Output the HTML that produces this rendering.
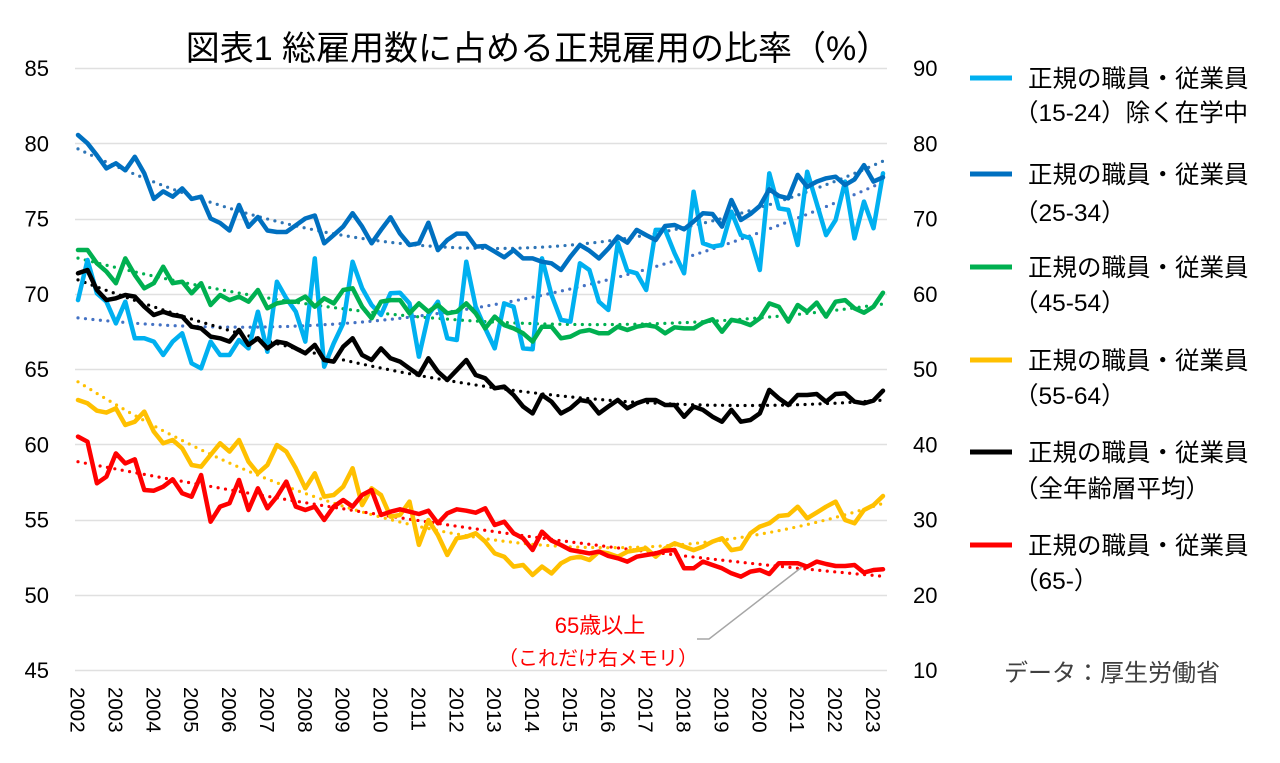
<!DOCTYPE html>
<html><head><meta charset="utf-8">
<style>
html,body{margin:0;padding:0;background:#fff;}
svg{display:block;font-family:"Liberation Sans","Noto Sans CJK JP",sans-serif;}
</style></head>
<body>
<svg id="chart" width="1280" height="763" viewBox="0 0 1280 763" xmlns="http://www.w3.org/2000/svg">
<text x="538" y="60" text-anchor="middle" font-size="34" fill="#000">図表1 総雇用数に占める正規雇用の比率（%）</text>
<g id="grid"></g>
<g id="yleft"></g>
<g id="yright"></g>
<g id="xaxis"></g>
<g id="trends"></g>
<g id="series"></g>
<g font-size="24.5" fill="#000">
  <g><line x1="970" y1="78" x2="1012" y2="78" stroke="#00B0F0" stroke-width="5"/><text x="1028" y="87">正規の職員・従業員</text><text x="1014" y="121">（15-24）除く在学中</text></g>
  <g><line x1="970" y1="174" x2="1012" y2="174" stroke="#0070C0" stroke-width="5"/><text x="1028" y="183">正規の職員・従業員</text><text x="1014" y="221">（25-34）</text></g>
  <g><line x1="970" y1="267" x2="1012" y2="267" stroke="#00B050" stroke-width="5"/><text x="1028" y="276">正規の職員・従業員</text><text x="1014" y="311">（45-54）</text></g>
  <g><line x1="970" y1="360" x2="1012" y2="360" stroke="#FFC000" stroke-width="5"/><text x="1028" y="369">正規の職員・従業員</text><text x="1014" y="404">（55-64）</text></g>
  <g><line x1="970" y1="452" x2="1012" y2="452" stroke="#000" stroke-width="5"/><text x="1028" y="461">正規の職員・従業員</text><text x="1014" y="497">（全年齢層平均）</text></g>
  <g><line x1="970" y1="545" x2="1012" y2="545" stroke="#FF0000" stroke-width="5"/><text x="1028" y="554">正規の職員・従業員</text><text x="1014" y="589">（65-）</text></g>
</g>
<g>
  <text x="600" y="633" text-anchor="middle" font-size="22" fill="#FF0000">65歳以上</text>
  <text x="598" y="665" text-anchor="middle" font-size="20" fill="#FF0000">（これだけ右メモリ）</text>
  <polyline points="697,639 709,639 802,567" fill="none" stroke="#A6A6A6" stroke-width="1.5"/>
</g>
<text x="1112" y="681" text-anchor="middle" font-size="24" fill="#404040">データ：厚生労働省</text>
</svg>
<script>
const years = [2002,2003,2004,2005,2006,2007,2008,2009,2010,2011,2012,2013,2014,2015,2016,2017,2018,2019,2020,2021,2022,2023];
const leftTicks = [45,50,55,60,65,70,75,80,85];
const rightTicks = [10,20,30,40,50,60,70,80,90];
const s1524 = [69.58,72.24,70.03,69.47,68.03,69.47,67.04,67.04,66.82,65.93,66.82,67.37,65.38,65.04,66.82,65.93,65.93,66.93,66.37,68.81,66.15,70.8,69.7,68.81,66.82,72.35,65.15,66.7,
68.03,72.13,70.36,69.25,68.59,70.03,70.07,69.36,65.82,68.59,69.47,67.04,66.93,72.13,69.14,67.7,66.37,69.36,69.14,66.37,66.31,72.35,69.92,68.26,68.15,72.02,71.58,69.47,68.92,73.4,71.53,
71.36,70.25,74.24,74.24,72.69,71.36,76.78,73.35,73.13,73.24,75.45,73.9,73.68,71.58,78.0,75.67,75.57,73.24,78.11,76.01,73.9,74.9,77.45,73.68,76.12,74.35,78.0];
const s2534 = [80.55,80.0,79.2,78.33,78.67,78.2,79.1,78.0,76.3,76.8,76.45,77.0,76.3,76.45,75.0,74.7,74.2,75.9,74.45,75.1,74.2,74.1,74.1,74.55,75.0,75.2,73.35,73.9,
74.46,75.35,74.46,73.35,74.24,75.08,74.0,73.24,73.35,74.72,72.9,73.57,74.0,74.0,73.13,73.17,72.8,72.42,72.9,72.35,72.35,72.13,72.02,71.58,72.46,73.24,72.86,72.35,73.0,73.8,73.4,
74.24,73.9,73.57,74.5,74.57,74.28,74.8,75.35,75.3,74.46,76.23,74.9,75.3,75.83,76.94,76.5,76.34,77.9,77.1,77.45,77.67,77.78,77.23,77.6,78.55,77.45,77.74];
const s4554 = [72.91,72.91,72.02,71.47,70.7,72.35,71.25,70.36,70.7,71.8,70.7,70.8,70.03,70.7,69.25,69.92,69.58,69.81,69.47,70.25,69.03,69.36,69.47,69.47,69.81,69.14,69.7,69.36,
70.25,70.36,69.14,68.37,69.47,69.58,69.58,68.7,69.36,68.81,69.25,68.7,68.81,69.36,68.7,67.7,68.48,67.92,67.7,67.37,66.82,67.81,67.81,67.04,67.15,67.48,67.59,67.37,67.37,67.81,67.59,
67.81,67.92,67.81,67.37,67.77,67.7,67.7,68.08,68.3,67.48,68.26,68.15,67.92,68.37,69.36,69.14,68.15,69.25,68.81,69.41,68.48,69.47,69.58,69.03,68.74,69.14,70.07];
const s5564 = [62.94,62.72,62.23,62.1,62.39,61.28,61.5,62.17,60.84,60.06,60.28,59.73,58.62,58.51,59.29,60.06,59.51,60.28,58.84,58.07,58.62,59.95,59.51,58.4,57.07,58.07,56.52,56.63,
57.18,58.4,55.96,57.07,56.63,55.19,55.3,56.19,53.31,54.97,53.97,52.64,53.75,53.86,54.08,53.53,52.75,52.53,51.87,51.98,51.31,51.87,51.42,52.09,52.42,52.53,52.31,52.86,52.75,52.53,52.86,
52.97,53.08,52.53,53.08,53.42,53.2,52.97,53.2,53.53,53.75,52.97,53.08,54.08,54.53,54.75,55.23,55.3,55.85,55.08,55.46,55.85,56.19,54.97,54.75,55.63,55.96,56.56];
const sAll = [71.36,71.58,70.25,69.58,69.7,69.92,69.81,69.14,68.59,68.81,68.59,68.48,67.81,67.7,67.15,67.04,66.82,67.59,66.6,67.04,66.37,66.82,66.71,66.37,66.04,66.6,65.6,65.49,
66.48,67.04,65.93,65.6,66.37,65.71,65.49,65.04,64.6,65.71,64.82,64.27,64.93,65.6,64.6,64.38,63.72,63.83,63.27,62.5,62.05,63.27,62.83,62.05,62.39,62.94,62.83,62.05,62.5,62.94,62.39,
62.72,62.94,62.94,62.61,62.61,61.83,62.5,62.28,61.83,61.5,62.28,61.5,61.61,62.05,63.61,63.05,62.61,63.27,63.27,63.34,62.83,63.34,63.38,62.83,62.72,62.9,63.56];
const s65 = [41.01,40.34,34.81,35.69,38.79,37.46,38.0,33.92,33.83,34.36,35.34,33.48,33.03,35.92,29.71,31.71,32.15,35.25,31.26,34.14,31.49,33.03,35.03,31.71,31.26,31.71,29.93,31.71,
32.59,31.71,33.26,33.92,30.6,31.04,31.35,31.04,30.73,31.17,29.49,30.82,31.35,31.17,30.91,31.49,29.27,29.71,28.16,27.5,25.95,28.38,27.19,26.61,25.95,25.73,25.5,25.73,25.15,24.84,24.4,
25.06,25.28,25.5,25.86,25.95,23.51,23.51,24.4,23.96,23.51,22.85,22.41,23.07,23.29,22.76,24.18,24.18,24.18,23.73,24.4,24.09,23.82,23.82,23.96,22.94,23.29,23.38];

const NS = "http://www.w3.org/2000/svg";
const X0 = 78, STEP = 9.47;
const xq = i => X0 + i * STEP;
const xYear = y => X0 + (y - 2002) * 4 * STEP;
const yL = v => 68 + (85 - v) * (602 / 40);
const yR = v => 68 + (90 - v) * (602 / 80);
function mk(tag, attrs, parent) {
  const e = document.createElementNS(NS, tag);
  for (const k in attrs) e.setAttribute(k, attrs[k]);
  parent.appendChild(e);
  return e;
}
const grid = document.getElementById('grid');
const yl = document.getElementById('yleft');
const yr = document.getElementById('yright');
leftTicks.forEach(t => {
  const g = mk('line', {x1: 75, x2: 887, y1: Math.round(yL(t)) + 0.5, y2: Math.round(yL(t)) + 0.5, stroke: '#E0E0E0', 'stroke-width': 1.5}, grid);
  
  
  const tx = mk('text', {x: 49, y: yL(t) + 8, 'text-anchor': 'end', 'font-size': 22, fill: '#000'}, yl);
  tx.textContent = t;
  
  
});
rightTicks.forEach(t => {
  const tx = mk('text', {x: 913, y: yR(t) + 8, 'text-anchor': 'start', 'font-size': 22, fill: '#000'}, yr);
  tx.textContent = t;
  
  
});
const xa = document.getElementById('xaxis');
years.forEach(y => {
  const x = xYear(y);
  const tx = mk('text', {x: 0, y: 0, 'font-size': 20.5, fill: '#000', transform: `translate(${x - 7.5},687) rotate(90)`}, xa);
  tx.textContent = y;
  
  
});

function quadFit(vals) {
  const n = vals.length;
  let S = [0,0,0,0,0], T = [0,0,0];
  vals.forEach((v, i) => {
    const x = i / n;
    S[0]+=1; S[1]+=x; S[2]+=x*x; S[3]+=x*x*x; S[4]+=x*x*x*x;
    T[0]+=v; T[1]+=v*x; T[2]+=v*x*x;
  });
  const M = [[S[0],S[1],S[2],T[0]],[S[1],S[2],S[3],T[1]],[S[2],S[3],S[4],T[2]]];
  for (let c = 0; c < 3; c++) {
    for (let r = c + 1; r < 3; r++) {
      const f = M[r][c] / M[c][c];
      for (let k = c; k < 4; k++) M[r][k] -= f * M[c][k];
    }
  }
  const b = [0,0,0];
  for (let r = 2; r >= 0; r--) {
    let s = M[r][3];
    for (let k = r + 1; k < 3; k++) s -= M[r][k] * b[k];
    b[r] = s / M[r][r];
  }
  return vals.map((_, i) => { const x = i / n; return b[0] + b[1]*x + b[2]*x*x; });
}

const seriesDefs = [
  {name: '15-24', vals: s1524, color: '#00B0F0', trend: '#4472C4', axis: yL},
  {name: '45-54', vals: s4554, color: '#00B050', trend: '#00B050', axis: yL},
  {name: 'all-ages', vals: sAll, color: '#000000', trend: '#000000', axis: yL},
  {name: '55-64', vals: s5564, color: '#FFC000', trend: '#FFC000', axis: yL},
  {name: '65-plus', vals: s65, color: '#FF0000', trend: '#FF0000', axis: yR},
  {name: '25-34', vals: s2534, color: '#0070C0', trend: '#2E75B6', axis: yL}
];
const sg = document.getElementById('series');
const tg = document.getElementById('trends');
seriesDefs.forEach(d => {
  const pts = d.vals.map((v, i) => xq(i).toFixed(1) + ',' + d.axis(v).toFixed(1)).join(' ');
  const pl = mk('polyline', {points: pts, fill: 'none', stroke: d.color, 'stroke-width': 4.5, 'stroke-linejoin': 'round', 'stroke-linecap': 'round'}, sg);
  
  
});
seriesDefs.forEach(d => {
  const fit = quadFit(d.vals);
  const pts = fit.map((v, i) => xq(i).toFixed(1) + ',' + d.axis(v).toFixed(1)).join(' ');
  const tl = mk('polyline', {points: pts, fill: 'none', stroke: d.trend, 'stroke-width': 3.2, 'stroke-dasharray': '0 7.5', 'stroke-linecap': 'round'}, tg);
  
  
});
</script>
</body></html>
